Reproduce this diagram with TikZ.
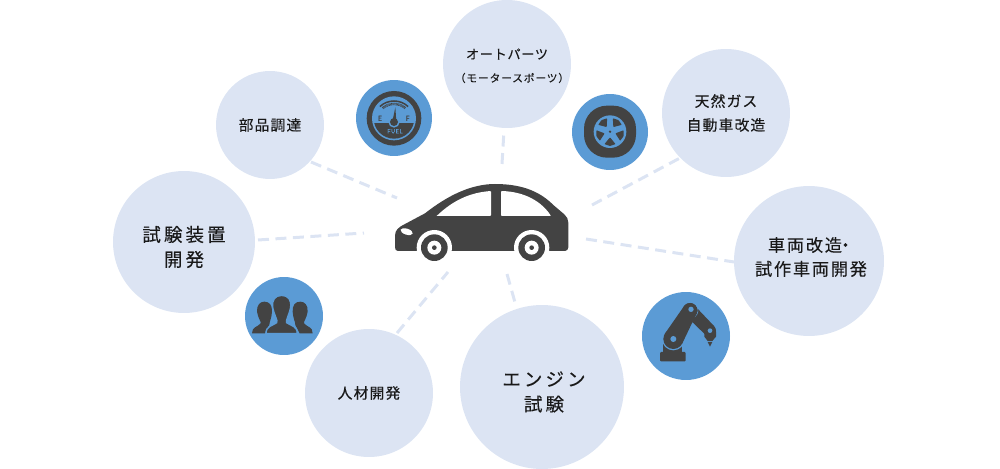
\documentclass[tikz,border=0pt]{standalone}
\usepackage{fontspec}
\setmainfont{Noto Sans CJK JP}[LetterSpace=8,FakeBold=0.25]
\definecolor{bubblecol}{HTML}{DCE4F3}
\definecolor{iconblue}{HTML}{5B9BD5}
\definecolor{darkgrey}{HTML}{434343}
\tikzset{
	bubble/.style={circle,fill=bubblecol,inner sep=0pt,align=center,text=black!90},
	iconbg/.style={circle,fill=iconblue,inner sep=0pt},
	link/.style={draw=bubblecol,line width=0.06cm,dash pattern=on 0.22cm off 0.13cm},
	iconview/.style={x=0.006667cm,y=-0.006667cm},
	small/.style={font=\fontsize{8.4}{13.6}\selectfont},
	big/.style={align=center,text=black!90,font=\lineskiplimit-20pt\relax\fontsize{10.5}{14.2}\selectfont\addfontfeature{LetterSpace=17}},
}
\begin{document}
\begin{tikzpicture}[x=0.02cm,y=-0.02cm]
	\useasboundingbox (0,0) rectangle (1000,469);
	% bubbles
	\node[bubble,small,minimum size=2.16cm] (parts) at (270,125) {部品調達};
	\node[bubble,minimum size=2.84cm] (tester) at (184,242) {};
	\node[big] (testerlabel) at (184,247) {試験装置\\開発};
	\node[bubble,small,minimum size=2.56cm] (staff) at (369,393) {人材開発};
	\node[bubble,minimum size=3.28cm] (engine) at (542,387) {};
	\node[big] (enginelabel) at (544,392) {エンジン\\試験};
	\node[bubble,minimum size=3cm] (convert) at (809,261) {};
	\node[align=center,text=black!90,font=\lineskiplimit-20pt\relax\fontsize{9.8}{13.6}\selectfont\addfontfeature{LetterSpace=10}] (convertlabel) at (811,257) {車両改造\hspace{-0.3em}・\hspace{-0.3em}\\試作車両開発};
	\node[bubble,small,minimum size=2.56cm] (gas) at (726,113) {天然ガス\\自動車改造};
	\node[bubble,minimum size=2.56cm] (auto) at (507,64) {};
	\node[font=\fontsize{7.5}{10}\selectfont\addfontfeature{LetterSpace=5},text=black!90] (autotop) at (507,54) {オートパーツ};
	\node[font=\fontsize{6.1}{8}\selectfont,text=black!90] (autosub) at (512,78) {（モータースポーツ）};
	% dashed links
	\coordinate (a1) at (311,162);
	\coordinate (a2) at (397,198);
	\coordinate (b1) at (258,240);
	\coordinate (b2) at (364,233);
	\coordinate (c1) at (397,333);
	\coordinate (c2) at (448,272);
	\coordinate (d1) at (507,274);
	\coordinate (d2) at (516,306);
	\coordinate (e1) at (586,239);
	\coordinate (e2) at (734,262);
	\coordinate (f1) at (592,205);
	\coordinate (f2) at (680,158);
	\coordinate (g1) at (502,164);
	\coordinate (g2) at (504,130);
	\draw[link] (a1) -- (a2);
	\draw[link] (b1) -- (b2);
	\draw[link] (c1) -- (c2);
	\draw[link] (d1) -- (d2);
	\draw[link] (e1) -- (e2);
	\draw[link] (f1) -- (f2);
	\draw[link] (g1) -- (g2);
	% car
	\begin{scope}[shift={(385,170)},iconview]
		\fill[darkgrey] (38,243) to[out=180,in=270] (30,232) -- (30,198)
			.. controls (30,180) and (40,172) .. (60,162) -- (120,130)
			.. controls (190,75) and (260,42) .. (330,42)
			.. controls (420,42) and (470,70) .. (505,105)
			-- (538,133) .. controls (546,140) and (550,148) .. (550,158)
			-- (550,232) to[out=270,in=0] (540,243) -- cycle;
		\fill[white,rounded corners=0.015cm] (155,138) -- (318,138) -- (318,63) .. controls (250,68) and (200,95) .. cycle;
		\fill[white,rounded corners=0.015cm] (348,138) -- (498,138) .. controls (470,95) and (420,65) .. (348,63) -- cycle;
		\fill[white,rotate around={-18:(65,185)}] (65,185) ellipse (19 and 9);
		\foreach \wx in {148,440} {
			\fill[white] (\wx,233) circle (53);
			\fill[darkgrey] (\wx,233) circle (40);
			\fill[white] (\wx,233) circle (21);
			\fill[darkgrey] (\wx,233) circle (7);
		}
	\end{scope}
	% fuel gauge
	\node[iconbg,minimum size=1.52cm] (fuelicon) at (394,118) {};
	\begin{scope}[shift={(350,70)},iconview]
		\fill[darkgrey] (132,145) circle (82);
		\fill[iconblue] (132,145) circle (66);
		\begin{scope}
			\clip (50,162) rectangle (215,235);
			\fill[darkgrey] (132,145) circle (61);
		\end{scope}
		\draw[darkgrey,line width=0.03cm] (132,155) ++(-133:62) arc (-133:-47:62);
		\draw[darkgrey,line width=0.05cm,dash pattern=on 0.012cm off 0.012cm] (132,155) ++(-130:53) arc (-130:-50:53);
		\fill[iconblue] (132,156) circle (17);
		\fill[darkgrey] (127,155) -- (136,112) -- (139,155) -- cycle;
		\fill[darkgrey] (132,156) circle (12);
		\node[text=darkgrey,font=\fontsize{4}{4}\selectfont] (fuelE) at (90,145) {E};
		\node[text=darkgrey,font=\fontsize{4}{4}\selectfont] (fuelF) at (173,145) {F};
		\node[text=iconblue,font=\fontsize{3.3}{4}\selectfont] (fuellabel) at (135,184) {FUEL};
	\end{scope}
	% tire
	\node[iconbg,minimum size=1.52cm] (tireicon) at (610,132) {};
	\begin{scope}[shift={(565,85)},iconview]
		\fill[darkgrey,rounded corners=0.46cm] (57,62) rectangle (213,218);
		\fill[iconblue] (135,140) circle (49);
		\begin{scope}[shift={(135,140)}]
			\foreach \ang in {-54,18,90,162,234} {
				\fill[darkgrey,rounded corners=0.012cm] (\ang:17) -- (\ang-24:41) -- (\ang:43) -- (\ang+24:41) -- cycle;
			}
			\fill[darkgrey] (0,0) circle (4);
		\end{scope}
	\end{scope}
	% robot arm
	\node[iconbg,minimum size=1.76cm] (roboticon) at (686,336) {};
	\begin{scope}[shift={(635,285)},iconview]
		\fill[darkgrey,rounded corners=0.02cm] (75,201) rectangle (152,229);
		\fill[darkgrey] (85,201) -- (85,170) -- (142,170) -- (142,201) -- cycle;
		\fill[iconblue] (115,162) circle (34);
		\fill[darkgrey] (165,76) circle (22);
		\fill[darkgrey] (225,137) circle (18);
		\fill[darkgrey] (179,62) -- (238,124) -- (212,150) -- (152,92) -- cycle;
		\draw[iconblue,line width=0.012cm] (165,76) ++(-40:24) arc (-40:140:24);
		\fill[darkgrey] (115,162) circle (30);
		\fill[darkgrey] (165,76) circle (22);
		\fill[darkgrey] (141,177) -- (184,87) -- (146,65) -- (89,147) -- cycle;
		\fill[iconblue] (115,162) circle (9);
		\fill[iconblue] (168,73) circle (8);
		\fill[darkgrey] (208,140) -- (243,140) -- (243,155) -- (232,168) -- (218,168) -- (208,155) -- cycle;
		\fill[darkgrey] (218,171) -- (232,171) -- (225,185) -- cycle;
		\fill[iconblue] (225,137) circle (7);
	\end{scope}
	% people
	\node[iconbg,minimum size=1.56cm] (peopleicon) at (284,316) {};
	\begin{scope}[shift={(240,270)},iconview]
		\foreach \sgn/\off in {1/0,-1/254} {
			\begin{scope}[shift={(\off,0)},xscale=\sgn]
				\fill[darkgrey] (36,190) .. controls (36,170) and (52,172) .. (62,160)
					.. controls (64,155) and (54,145) .. (51,125)
					.. controls (50,105) and (60,95) .. (73,95)
					.. controls (88,95) and (97,105) .. (96,125)
					.. controls (95,145) and (88,155) .. (88,165) -- (75,190) -- cycle;
			\end{scope}
		}
		\fill[darkgrey,draw=iconblue,line width=0.03cm] (78,191) .. controls (78,168) and (95,168) .. (110,158)
			.. controls (114,152) and (102,135) .. (98,112)
			.. controls (95,90) and (105,76) .. (125,76)
			.. controls (145,76) and (155,90) .. (152,112)
			.. controls (148,135) and (136,152) .. (140,158)
			.. controls (155,168) and (172,168) .. (172,191) -- cycle;
	\end{scope}
\end{tikzpicture}
\end{document}
